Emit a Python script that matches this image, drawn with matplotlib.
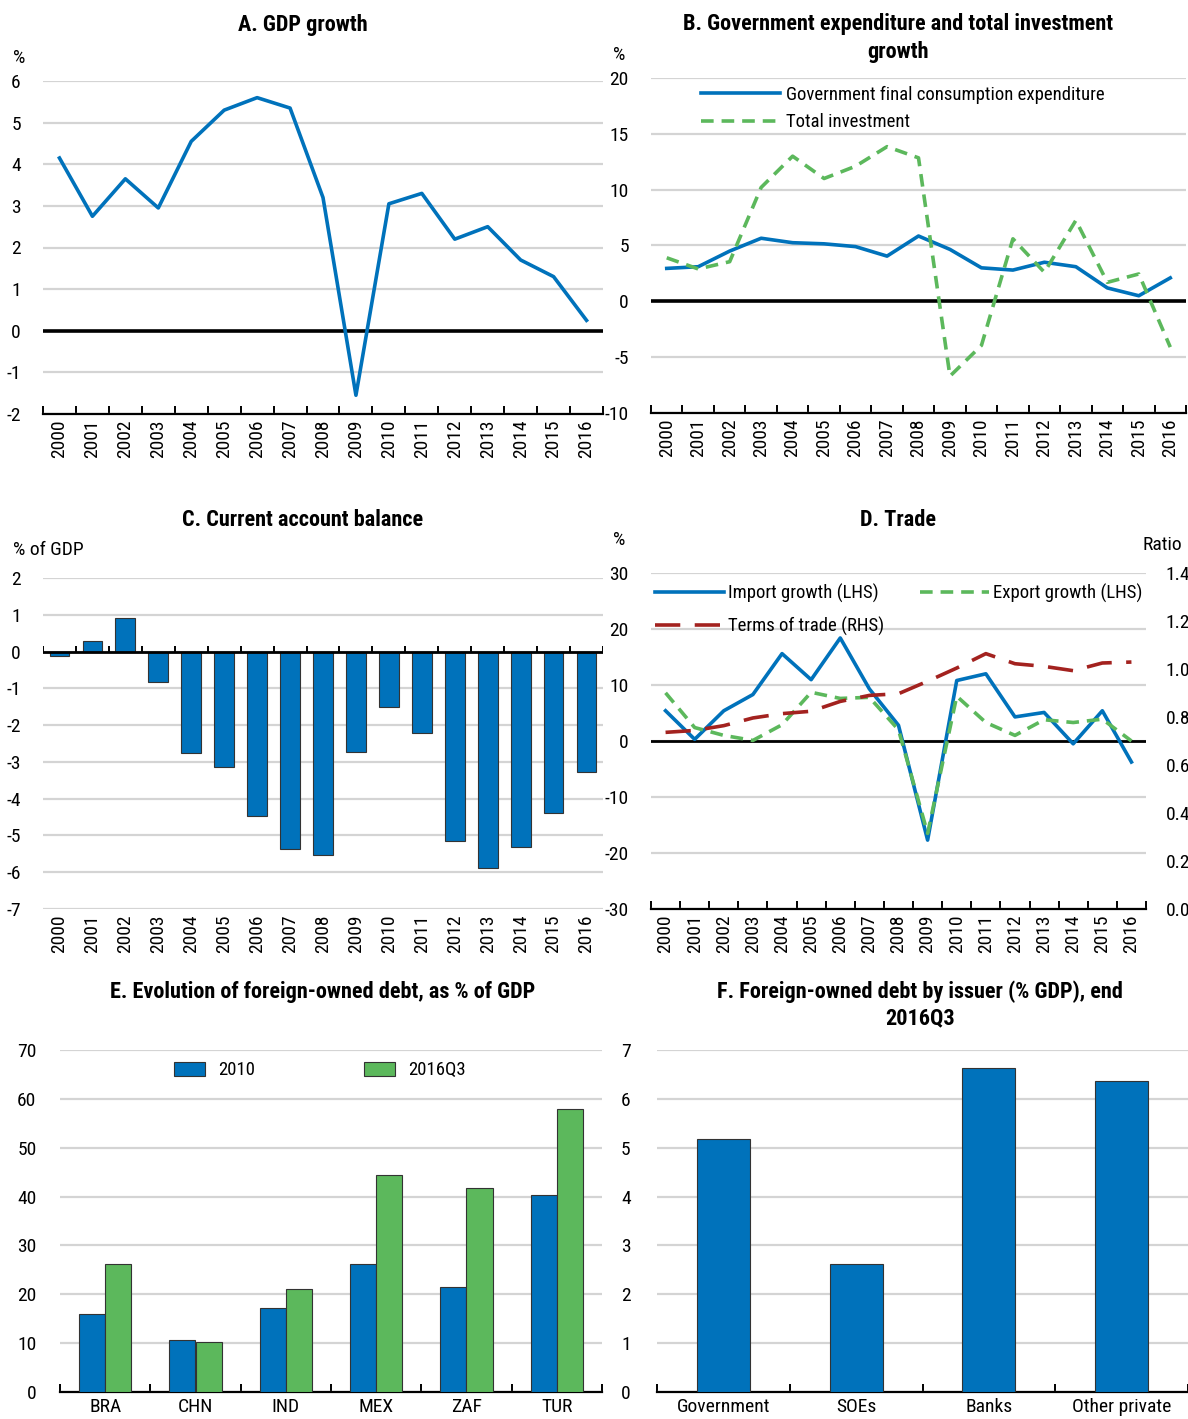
import matplotlib
matplotlib.use("Agg")
import matplotlib.pyplot as plt
from matplotlib.ticker import FixedLocator, FuncFormatter
import numpy as np

plt.rcParams["font.family"] = ["Roboto Condensed", "Liberation Sans Narrow", "DejaVu Sans"]
plt.rcParams["font.size"] = 13
plt.rcParams["axes.unicode_minus"] = False

W, H = 1188, 1419
BLUE = "#0072bb"
GREEN = "#5cb85c"
RED = "#a3221f"
GRID = "#d4d4d4"
FS = 14
LFS = 13.5
TFS = 16

years = list(range(2000, 2017))
gdp_growth = [4.15, 2.75, 3.65, 2.95, 4.55, 5.3, 5.6, 5.35, 3.2, -1.55,
              3.05, 3.3, 2.2, 2.5, 1.7, 1.3, 0.25]
gov_consumption = [2.95, 3.1, 4.5, 5.65, 5.25, 5.15, 4.9, 4.05, 5.85, 4.65,
                   3.0, 2.8, 3.5, 3.1, 1.2, 0.5, 2.1]
total_investment = [3.9, 2.9, 3.55, 10.2, 13.0, 11.0, 12.1, 13.85, 12.85, -6.7,
                    -3.95, 5.6, 2.6, 7.25, 1.7, 2.45, -4.1]
current_account = [-0.12, 0.28, 0.9, -0.82, -2.77, -3.13, -4.47, -5.38, -5.53, -2.73,
                   -1.5, -2.21, -5.14, -5.88, -5.32, -4.4, -3.27]
import_growth = [5.4, 0.3, 5.4, 8.3, 15.6, 10.95, 18.4, 9.3, 2.8, -17.7,
                 10.8, 12.0, 4.3, 5.1, -0.5, 5.4, -3.75]
export_growth = [8.6, 2.4, 1.0, 0.1, 2.9, 8.7, 7.6, 7.8, 2.0, -16.5,
                 8.0, 3.3, 1.0, 3.8, 3.3, 3.9, 0.0]
terms_of_trade = [0.736, 0.744, 0.764, 0.796, 0.814, 0.824, 0.865, 0.89, 0.897, 0.949,
                  1.004, 1.064, 1.022, 1.011, 0.993, 1.025, 1.029]

countries = ["BRA", "CHN", "IND", "MEX", "ZAF", "TUR"]
debt_2010 = [15.9, 10.6, 17.1, 26.2, 21.45, 40.4]
debt_2016q3 = [26.3, 10.25, 21.0, 44.4, 41.8, 57.9]

issuers = ["Government", "SOEs", "Banks", "Other private"]
debt_by_issuer = [5.18, 2.62, 6.63, 6.37]


def px_axes(fig, left, top, right, bottom):
    return fig.add_axes([left / W, 1 - bottom / H, (right - left) / W, (bottom - top) / H])


def base_style(ax, ylim, yticks, n_cat, xlabels, rotate=True, ypad=14):
    ax.set_xlim(-0.5, n_cat - 0.5)
    ax.set_ylim(*ylim)
    ax.set_yticks(yticks)
    ax.yaxis.grid(True, color=GRID, linewidth=1.6)
    ax.set_axisbelow(True)
    for side in ("left", "right", "top"):
        ax.spines[side].set_visible(False)
    ax.spines["bottom"].set_color("black")
    ax.spines["bottom"].set_linewidth(1.6)
    ax.tick_params(axis="y", length=0, pad=ypad, labelsize=FS)
    ax.xaxis.set_major_locator(FixedLocator(np.arange(n_cat)))
    ax.xaxis.set_minor_locator(FixedLocator(np.arange(n_cat + 1) - 0.5))
    ax.set_xticklabels(xlabels, rotation=90 if rotate else 0, fontsize=FS)
    ax.tick_params(axis="x", which="major", length=0, pad=4)
    ax.tick_params(axis="x", which="minor", direction="in", length=6, width=1.4)


fig = plt.figure(figsize=(W / 100, H / 100), dpi=100)
x = np.arange(len(years))

# A. GDP growth
ax = px_axes(fig, 43, 81, 603, 414)
base_style(ax, (-2, 6), range(-2, 7), len(years), years, ypad=16)
ax.axhline(0, color="black", linewidth=2.6, zorder=2)
ax.plot(x, gdp_growth, color=BLUE, linewidth=2.6, zorder=3)
fig.text(303 / W, 1 - 25 / H, "A. GDP growth", ha="center", va="center",
         fontsize=TFS, fontweight="bold")
fig.text(13 / W, 1 - 58 / H, "%", ha="left", va="center", fontsize=FS)

# B. Government expenditure and total investment growth
ax = px_axes(fig, 651, 78, 1186, 413)
base_style(ax, (-10, 20), range(-10, 21, 5), len(years), years, ypad=16)
ax.axhline(0, color="black", linewidth=2.6, zorder=2)
ax.plot(x, gov_consumption, color=BLUE, linewidth=2.6, zorder=3,
        label="Government final consumption expenditure")
ax.plot(x, total_investment, color=GREEN, linewidth=2.6, zorder=3,
        dashes=(3.5, 2.2), label="Total investment")
ax.legend(loc="upper left", bbox_to_anchor=(0.093, 0.977), frameon=False,
          borderpad=0, borderaxespad=0, handlelength=4.2, handletextpad=0.35,
          labelspacing=0.5, fontsize=LFS)
fig.text(898 / W, 1 - 38 / H, "B. Government expenditure and total investment\ngrowth",
         ha="center", va="center", fontsize=TFS, fontweight="bold", linespacing=1.3)
fig.text(613 / W, 1 - 55 / H, "%", ha="left", va="center", fontsize=FS)

# C. Current account balance
ax = px_axes(fig, 43, 578, 603, 909)
base_style(ax, (-7, 2), range(-7, 3), len(years), years, ypad=16)
ax.spines["bottom"].set_visible(False)
ax.tick_params(axis="x", which="minor", length=0)
ax.bar(x, current_account, width=0.6, color=BLUE, edgecolor="#333333",
       linewidth=0.8, zorder=3)
ax.axhline(0, color="black", linewidth=2.0, zorder=4)
ax.vlines(np.arange(len(years) + 1) - 0.5, 0, 0.16, color="black", linewidth=1.4, zorder=4)
fig.text(303 / W, 1 - 520 / H, "C. Current account balance", ha="center", va="center",
         fontsize=TFS, fontweight="bold")
fig.text(13 / W, 1 - 550 / H, "% of GDP", ha="left", va="center", fontsize=FS)

# D. Trade
ax = px_axes(fig, 651, 573, 1146, 909)
base_style(ax, (-30, 30), range(-30, 31, 10), len(years), years, ypad=16)
ax.axhline(0, color="black", linewidth=2.0, zorder=2)
l1, = ax.plot(x, import_growth, color=BLUE, linewidth=2.6, zorder=3,
              label="Import growth (LHS)")
l2, = ax.plot(x, export_growth, color=GREEN, linewidth=2.6, zorder=4,
              dashes=(3.5, 2.2), label="Export growth (LHS)")
ax2 = ax.twinx()
ax2.set_ylim(0, 1.4)
ax2.set_yticks(np.arange(0, 1.41, 0.2))
ax2.yaxis.set_major_formatter(FuncFormatter(lambda v, p: f"{v:.1f}"))
for side in ("left", "right", "top", "bottom"):
    ax2.spines[side].set_visible(False)
ax2.tick_params(axis="y", length=0, pad=14, labelsize=FS)
l3, = ax2.plot(x, terms_of_trade, color=RED, linewidth=2.6, dashes=(7, 4),
               label="Terms of trade (RHS)")
ax2.legend(handles=[l1, l3, l2], loc="upper left", bbox_to_anchor=(0.008, 0.968),
           ncol=2, frameon=False, borderpad=0, borderaxespad=0, handlelength=3.7,
           handletextpad=0.2, columnspacing=1.9, labelspacing=0.75, fontsize=LFS)
fig.text(898 / W, 1 - 520 / H, "D. Trade", ha="center", va="center",
         fontsize=TFS, fontweight="bold")
fig.text(613 / W, 1 - 540 / H, "%", ha="left", va="center", fontsize=FS)
fig.text(1143 / W, 1 - 545 / H, "Ratio", ha="left", va="center", fontsize=FS)

# E. Evolution of foreign-owned debt
ax = px_axes(fig, 60, 1050, 602, 1392)
xc = np.arange(len(countries))
base_style(ax, (0, 70), range(0, 71, 10), len(countries), countries, rotate=False, ypad=17)
bw = 0.29
ax.bar(xc - bw / 2, debt_2010, width=bw, color=BLUE, edgecolor="#333333",
       linewidth=0.8, zorder=3, label="2010")
ax.bar(xc + bw / 2, debt_2016q3, width=bw, color=GREEN, edgecolor="#333333",
       linewidth=0.8, zorder=3, label="2016Q3")
ax.legend(loc="upper left", bbox_to_anchor=(0.21, 0.967), ncol=2, frameon=False,
          borderpad=0, borderaxespad=0, handlelength=1.65, handleheight=0.75,
          handletextpad=0.7, columnspacing=5.8, fontsize=LFS)
fig.text(323 / W, 1 - 992 / H, "E. Evolution of foreign-owned debt, as % of GDP",
         ha="center", va="center", fontsize=TFS, fontweight="bold")

# F. Foreign-owned debt by issuer
ax = px_axes(fig, 657, 1050, 1188, 1392)
xi = np.arange(len(issuers))
base_style(ax, (0, 7), range(0, 8), len(issuers), issuers, rotate=False, ypad=19)
ax.bar(xi, debt_by_issuer, width=0.4, color=BLUE, edgecolor="#333333",
       linewidth=0.8, zorder=3)
fig.text(920 / W, 1 - 1005 / H, "F. Foreign-owned debt by issuer (% GDP), end\n2016Q3",
         ha="center", va="center", fontsize=TFS, fontweight="bold", linespacing=1.3)

fig.savefig("out.png", dpi=100)
